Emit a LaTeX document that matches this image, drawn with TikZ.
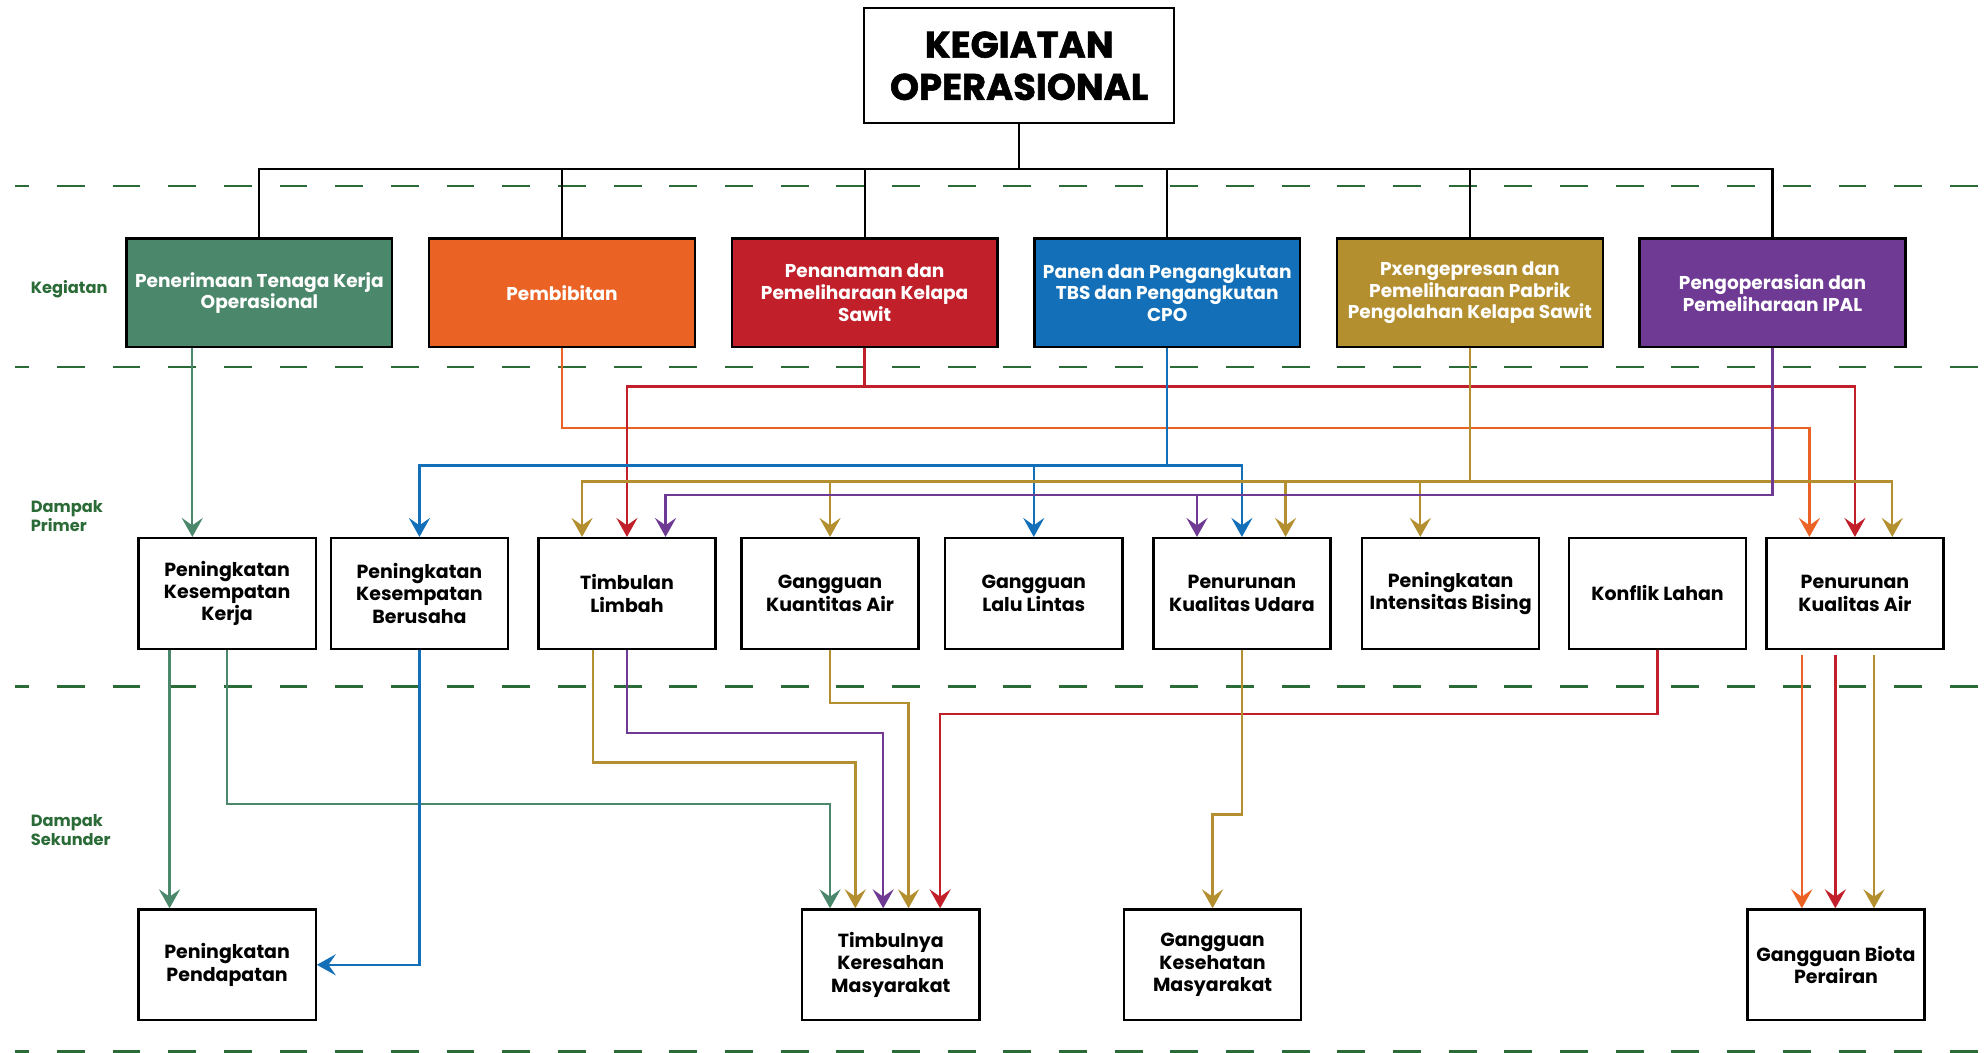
\documentclass[tikz,border=0pt]{standalone}
\usepackage{fontspec}
\setmainfont{Poppins}
\newfontfamily\headfont{Poppins}[BoldFeatures={FakeBold=1.6}]
\usetikzlibrary{arrows.meta,positioning,calc}

\definecolor{kgreen}{HTML}{4B876B}
\definecolor{korange}{HTML}{EA6324}
\definecolor{kred}{HTML}{C1202A}
\definecolor{kblue}{HTML}{1370B8}
\definecolor{kgold}{HTML}{B38F30}
\definecolor{kpurple}{HTML}{6E3A94}
\definecolor{bandgreen}{HTML}{2B6B37}

\begin{document}
\begin{tikzpicture}[
  x=0.6pt, y=-0.6pt,
  font=\bfseries,
  head/.style={draw=black, line width=1pt, minimum width=147pt, minimum height=54.6pt,
    align=center, font=\headfont\fontsize{17.5}{20}\selectfont\bfseries},
  kegbox/.style={draw=black, fill=#1, line width=1.1pt, text=white, align=center,
    minimum width=126pt, minimum height=51.6pt, inner sep=2pt, font=\fontsize{8.8}{10.3}\selectfont\bfseries},
  impact/.style={draw=black, fill=white, line width=1.1pt, align=center,
    minimum width=84pt, minimum height=52.5pt, inner sep=2pt, font=\fontsize{9}{10.6}\selectfont\bfseries},
  tree/.style={line width=1pt, draw=black},
  arrow/.style={-{Stealth[length=9pt, width=10pt, inset=3.5pt]}, line width=1.1pt, draw=#1},
  band/.style={text=bandgreen, align=left, anchor=west, inner sep=0pt, font=\fontsize{7.7}{9}\selectfont\bfseries},
  sep/.style={draw=bandgreen, line width=1.1pt, dash pattern=on 13.2pt off 13.2pt, dash phase=6.6pt}
]
  \useasboundingbox (0,0) rectangle (1568,832);

  % separators
  \foreach \yy in {147,290,542.5,831}
    \draw[sep] (12,\yy) -- (1568,\yy);

  \node[band] (lblkeg) at (24,228.7) {Kegiatan};
  \node[band] (lblprim) at (24,408) {Dampak\\Primer};
  \node[band] (lblsek) at (24,656.3) {Dampak\\Sekunder};

  % kegiatan
  \node[head] (title) at (805.5,52) {KEGIATAN\\OPERASIONAL};
  \node[kegbox=kgreen] (terima) at (205,231.5) {Penerimaan Tenaga Kerja\\Operasional};
  \node[kegbox=korange, right=16.4pt of terima] (bibit) {Pembibitan};
  \node[kegbox=kred, right=16.4pt of bibit] (tanam) {Penanaman dan\\Pemeliharaan Kelapa\\Sawit};
  \node[kegbox=kblue, right=16.4pt of tanam] (panen) {Panen dan Pengangkutan\\TBS dan Pengangkutan\\CPO};
  \node[kegbox=kgold, right=16.4pt of panen] (pabrik) {Pxengepresan dan\\Pemeliharaan Pabrik\\Pengolahan Kelapa Sawit};
  \node[kegbox=kpurple, right=16.4pt of pabrik] (ipal) {Pengoperasian dan\\Pemeliharaan IPAL};

  \draw[tree] (title.south) -- ++(0,35.5) coordinate (fork);
  \draw[tree] (terima.north) |- (ipal.north |- fork) -- (ipal.north);
  \foreach \n in {bibit,tanam,panen,pabrik}
    \draw[tree] (\n.north) -- (\n.north |- fork);

  % dampak primer
  \node[impact] (kerja) at (179.5,469) {Peningkatan\\Kesempatan\\Kerja};
  \node[impact] (usaha) at (331.5,469) {Peningkatan\\Kesempatan\\Berusaha};
  \node[impact] (limbah) at (495.5,469) {Timbulan\\Limbah};
  \node[impact] (airkuan) at (656,469) {Gangguan\\Kuantitas Air};
  \node[impact] (lalin) at (817,469) {Gangguan\\Lalu Lintas};
  \node[impact] (udara) at (981.5,469) {Penurunan\\Kualitas Udara};
  \node[impact] (bising) at (1146.5,469) {Peningkatan\\Intensitas Bising};
  \node[impact] (konflik) at (1310,469) {Konflik Lahan};
  \node[impact] (airkual) at (1466,469) {Penurunan\\Kualitas Air};

  % dampak sekunder
  \node[impact] (pendapatan) at (179.5,762.5) {Peningkatan\\Pendapatan};
  \node[impact] (keresahan) at (704,762.5) {Timbulnya\\Keresahan\\Masyarakat};
  \node[impact] (kesehatan) at (958.3,762.5) {Gangguan\\Kesehatan\\Masyarakat};
  \node[impact] (biota) at (1451,762.5) {Gangguan Biota\\Perairan};

  % kegiatan -> primer
  \draw[arrow=kgreen] ($(terima.south)+(-53,0)$) -- ($(kerja.north)+(-27.5,0)$);
  \draw[arrow=korange] (bibit.south) -- ++(0,63) -| ($(airkual.north)+(-36,0)$);
  \draw[arrow=kred] (tanam.south) -- ++(0,30) -| (limbah.north);
  \draw[arrow=kred] (tanam.south) -- ++(0,30) -| (airkual.north);
  \foreach \t in {usaha,lalin,udara}
    \draw[arrow=kblue] (panen.south) -- ++(0,92.5) -| (\t.north);
  \foreach \t/\dx in {limbah/-35.5, airkuan/0, udara/34.5, bising/-24, airkual/29.5}
    \draw[arrow=kgold] (pabrik.south) -- ++(0,105) -| ($(\t.north)+(\dx,0)$);
  \foreach \t/\dx in {limbah/30.5, udara/-35.5}
    \draw[arrow=kpurple] (ipal.south) -- ++(0,116) -| ($(\t.north)+(\dx,0)$);

  % primer -> sekunder
  \draw[arrow=kgreen] ($(kerja.south)+(-45.5,0)$) -- ($(pendapatan.north)+(-45.5,0)$);
  \draw[arrow=kgreen] (kerja.south) -- ++(0,122) -| ($(keresahan.north)+(-48,0)$);
  \draw[arrow=kblue] (usaha.south) |- (pendapatan.east);
  \draw[arrow=kgold] ($(limbah.south)+(-27,0)$) -- ++(0,89) -| ($(keresahan.north)+(-28,0)$);
  \draw[arrow=kpurple] (limbah.south) -- ++(0,65.5) -| ($(keresahan.north)+(-6,0)$);
  \draw[arrow=kgold] (airkuan.south) -- ++(0,42) -| ($(keresahan.north)+(14,0)$);
  \draw[arrow=kred] (konflik.south) -- ++(0,50.5) -| ($(keresahan.north)+(39,0)$);
  \draw[arrow=kgold] (udara.south) -- ++(0,130) -| (kesehatan.north);
  \foreach \c/\dx in {korange/-42, kred/-15.5, kgold/15}
    \draw[arrow=\c] ($(airkual.south)+(\dx,4)$) -- ($(biota.north)+(\dx+15,0)$);
\end{tikzpicture}
\end{document}
